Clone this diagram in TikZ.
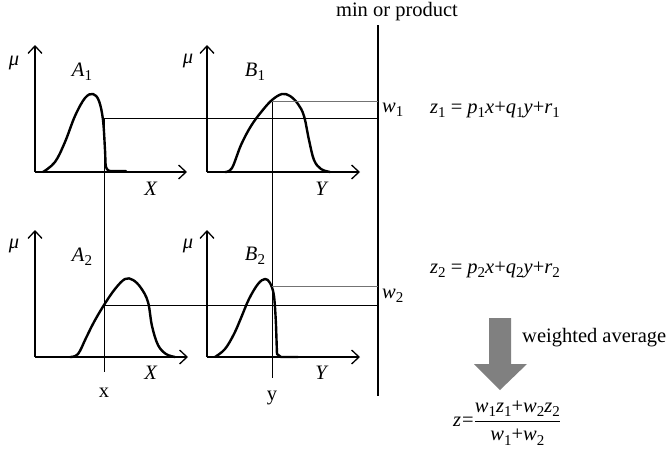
\documentclass[tikz,border=0pt]{standalone}
\usepackage{fontspec}
\setmainfont{Liberation Serif}
\usetikzlibrary{arrows.meta}
\newcommand\lo[1]{\raisebox{-0.45ex}{\fontsize{15}{15}\selectfont #1}}
\newcommand\iv[1]{\textit{#1}}
\begin{document}
\begin{tikzpicture}[x=1pt,y=-1pt,
  font=\fontsize{20.5}{24}\selectfont,
  axis/.style={line width=1.3pt,-{Straight Barb[length=7.5pt,width=14pt,line width=1.3pt]}},
  mf/.style={line width=2.4pt,line join=round,line cap=round},
  cut/.style={line width=1pt},
  lvl/.style={line width=1pt,black!55},
  lab/.style={inner sep=0pt}]
\useasboundingbox (0,0) rectangle (670,450);
% axes
\foreach \n/\ox/\oy/\ex in {a/35/172/187, b/207/172/360, c/35/357/188, d/207/357/360}{
  \coordinate (\n o) at (\ox,\oy);
  \coordinate (\n t) at (\ox,\oy-127);
  \coordinate (\n e) at (\ex,\oy);
  \draw[axis] (\n o) -- (\n t);
  \draw[axis] (\n o) -- (\n e);
}
% membership functions
\draw[mf] plot[smooth,tension=0.6] coordinates {(43,172) (55,162) (65,142) (75,116) (85,98) (93,94) (99,101) (103,120) (105,150) (106,167) (110,171)} -- (126,171);
\draw[mf] plot[smooth,tension=0.6] coordinates {(225,172) (232,168) (241,145) (251,126) (262,111) (272,100) (282,94) (290,96) (298,104) (304,116) (309,140) (314,160) (321,169) (330,172)};
\draw[mf] plot[smooth,tension=0.6] coordinates {(70,357) (78,354) (86,338) (94,322) (104,305) (115,289) (125,279) (133,280) (141,288) (148,302) (152,326) (158,345) (166,354) (175,357)};
\draw[mf] plot[smooth,tension=0.6] coordinates {(215,357) (225,349) (234,334) (241,318) (249,299) (258,284) (265,279) (270,283) (274,296) (276,325)} -- (277,354) -- (281,357) -- (298,357);
% cut lines
\coordinate (xt) at (104,118); \coordinate (xb) at (104,372);
\coordinate (yt) at (272,101); \coordinate (yb) at (272,378);
\coordinate (mt) at (378,25);  \coordinate (mb) at (378,396);
\draw[cut] (xt) -- (xb);
\draw[cut] (yt) -- (yb);
\draw[line width=1.2pt] (mt) -- (mb);
\draw[cut] (xt) -- (xt -| mt);
\draw[lvl] (yt) -- (yt -| mt);
\coordinate (x2) at (104,305); \coordinate (y2) at (272,286);
\draw[cut] (x2) -- (x2 -| mt);
\draw[lvl] (y2) -- (y2 -| mt);
% labels
\node[lab] (mu1) at (14,63) {\iv{μ}};
\node[lab] (mu2) at (188,61) {\iv{μ}};
\node[lab] (mu3) at (14,246) {\iv{μ}};
\node[lab] (mu4) at (188,246) {\iv{μ}};
\node[lab] (A1) at (82,72) {\iv{A}\lo{1}};
\node[lab] (B1) at (255,72) {\iv{B}\lo{1}};
\node[lab] (A2) at (82,257) {\iv{A}\lo{2}};
\node[lab] (B2) at (255,256) {\iv{B}\lo{2}};
\node[lab] (X1) at (151,189) {\iv{X}};
\node[lab] (Y1) at (322,189) {\iv{Y}};
\node[lab] (X2) at (151,373) {\iv{X}};
\node[lab] (Y2) at (322,373) {\iv{Y}};
\node[lab] (xl) at (104,393) {x};
\node[lab] (yl) at (272,398) {y};
\node[lab] (mp) at (397,12) {min or product};
\node[lab,anchor=west] (w1) at (382,110) {\iv{w}\lo{1}};
\node[lab,anchor=west] (w2) at (382,296) {\iv{w}\lo{2}};
\node[lab,anchor=west] (z1) at (430,110) {\iv{z}\lo{1} = \iv{p}\lo{1}\iv{x}+\iv{q}\lo{1}\iv{y}+\iv{r}\lo{1}};
\node[lab,anchor=west] (z2) at (430,270) {\iv{z}\lo{2} = \iv{p}\lo{2}\iv{x}+\iv{q}\lo{2}\iv{y}+\iv{r}\lo{2}};
% weighted average arrow
\fill[black!50] (489,318) -- (511,318) -- (511,364) -- (527,364) -- (500,390) -- (474,364) -- (489,364) -- cycle;
\node[lab,anchor=west] (wa) at (522,338) {weighted average};
\node[lab,anchor=west] (z) at (453,423) {\iv{z}\hspace{1pt}=$\displaystyle\frac{\hbox{\iv{w}\lo{1}\iv{z}\lo{1}+\iv{w}\lo{2}\iv{z}\lo{2}}}{\hbox{\iv{w}\lo{1}+\iv{w}\lo{2}}}$};
\end{tikzpicture}
\end{document}
